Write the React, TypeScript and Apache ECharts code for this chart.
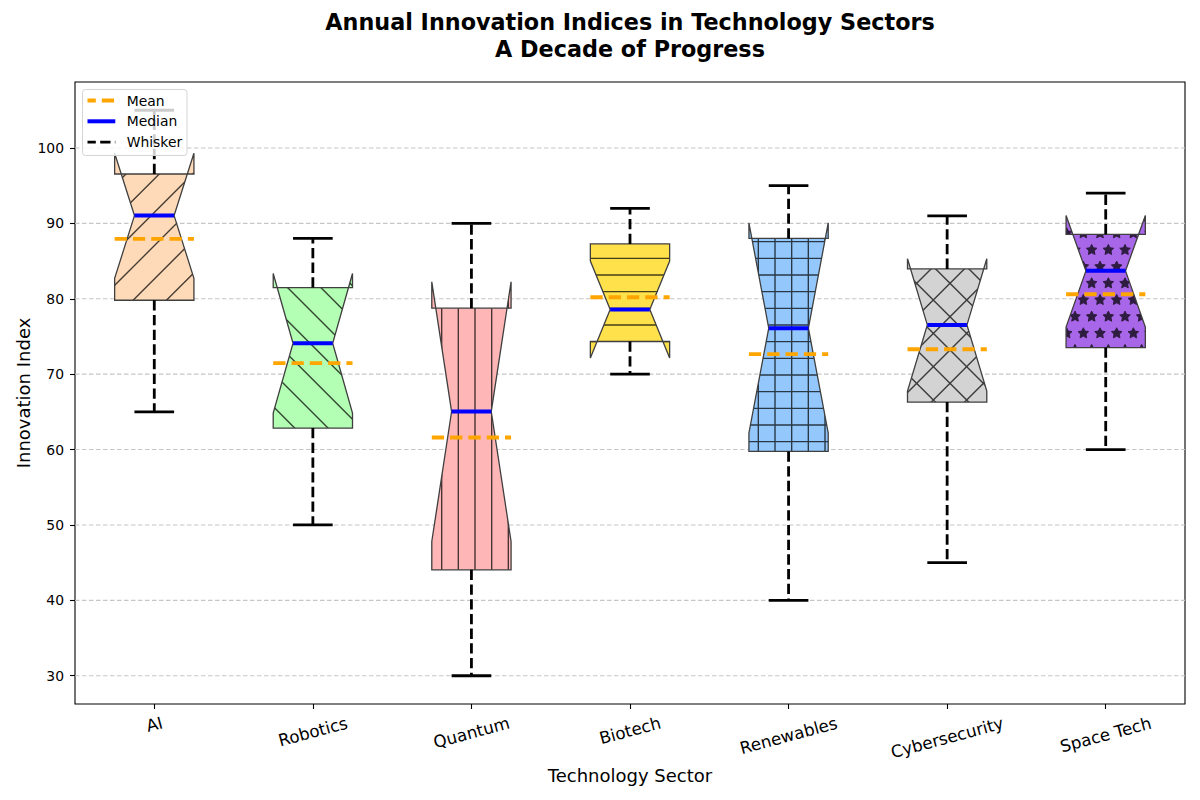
import React, { useEffect, useRef } from "react";
import * as echarts from "echarts";

const categories = ["AI", "Robotics", "Quantum", "Biotech", "Renewables", "Cybersecurity", "Space Tech"];
const whiskerLow = [65, 50, 30, 70, 40, 45, 60];
const q1 = [79.8, 62.85, 44.05, 74.33, 59.75, 66.3, 73.53];
const notchLow = [82.7, 64.85, 47.8, 72.15, 62.2, 67.75, 76.25];
const medians = [91.03, 74.1, 65.04, 78.57, 76.1, 76.53, 83.7];
const notchHigh = [99.3, 83.35, 82.25, 85.0, 90.05, 85.3, 91.05];
const q3 = [96.55, 81.48, 78.75, 87.27, 88.0, 83.96, 88.55];
const whiskerHigh = [105, 88, 90, 92, 95, 91, 94];
const means = [87.94, 71.45, 61.6, 80.2, 72.65, 73.3, 80.6];
const fillColors = ["#FFDAB9", "#B3FFB3", "#FFB6B6", "#FFE14C", "#94C8FC", "#D3D3D3", "#A866E8"];
const hatches = ["/", "\\", "|", "-", "+", "x", "*"];
const yTicks = [30, 40, 50, 60, 70, 80, 90, 100];
const yMin = 26.25;
const yMax = 108.75;
const titleLines = ["Annual Innovation Indices in Technology Sectors", "A Decade of Progress"];

const FONT = "'DejaVu Sans', 'Liberation Sans', sans-serif";
const HS = 100 / 6;
const HD = 100 / 3;

function shade(h: string, f: number) {
  const c = [1, 3, 5].map((i) => Math.round(parseInt(h.slice(i, i + 2), 16) * f));
  return `rgb(${c.join(",")})`;
}

function starPath(cx: number, cy: number, r: number) {
  let d = "";
  for (let k = 0; k < 10; k++) {
    const a = Math.PI / 2 + (k * Math.PI) / 5;
    const rr = k % 2 === 0 ? r : r * 0.5;
    const x = cx + rr * Math.cos(a);
    const y = cy - rr * Math.sin(a);
    d += (k === 0 ? "M" : "L") + x.toFixed(2) + " " + y.toFixed(2);
  }
  return d + "Z";
}

function hatchPath(kind: string, x0: number, x1: number, y0: number, y1: number) {
  const f = (n: number) => n.toFixed(2);
  let d = "";
  if (kind === "|" || kind === "+") {
    for (let k = Math.floor(x0 / HS - 1); (k + 0.5) * HS <= x1 + 1; k++) {
      const x = (k + 0.5) * HS;
      d += `M${f(x)} ${f(y0 - 2)}L${f(x)} ${f(y1 + 2)}`;
    }
  }
  if (kind === "-" || kind === "+") {
    for (let k = Math.floor(y0 / HS - 1); (k + 0.5) * HS <= y1 + 1; k++) {
      const y = (k + 0.5) * HS;
      d += `M${f(x0 - 2)} ${f(y)}L${f(x1 + 2)} ${f(y)}`;
    }
  }
  if (kind === "/" || kind === "x") {
    for (let k = Math.floor((x0 + y0) / HD) - 1; k * HD <= x1 + y1 + HD; k++) {
      const c = k * HD;
      d += `M${f(x0 - 2)} ${f(c - x0 + 2)}L${f(x1 + 2)} ${f(c - x1 - 2)}`;
    }
  }
  if (kind === "\\" || kind === "x") {
    for (let k = Math.floor((x0 - y1) / HD) - 1; k * HD <= x1 - y0 + HD; k++) {
      const c = k * HD;
      d += `M${f(x0 - 2)} ${f(x0 - 2 - c)}L${f(x1 + 2)} ${f(x1 + 2 - c)}`;
    }
  }
  if (kind === "*") {
    const r = HS / 3;
    for (let m = Math.floor(y0 / HS) - 1; m <= Math.ceil(y1 / HS) + 1; m++) {
      const off = m % 2 === 0 ? 0 : 0.5;
      for (let j = Math.floor(x0 / HS) - 1; j <= Math.ceil(x1 / HS) + 1; j++) {
        d += starPath((j + off) * HS, m * HS, r);
      }
    }
  }
  return d;
}

function measure(text: string, size: number) {
  const ctx = document.createElement("canvas").getContext("2d");
  if (!ctx) return text.length * size * 0.6;
  ctx.font = `${size}px "DejaVu Sans"`;
  return ctx.measureText(text).width;
}

export default function App() {
  const ref = useRef<HTMLDivElement>(null);

  useEffect(() => {
    document.body.style.margin = "0";
    if (!ref.current) return;
    const chart = echarts.init(ref.current, null, { renderer: "svg" });

    const rot = (15 * Math.PI) / 180;
    const rich: Record<string, any> = {};
    categories.forEach((c, i) => {
      const L = measure(c, 16.7);
      const p = L * Math.sin(rot);
      const rr = p * Math.tan(rot);
      rich["c" + i] = { fontSize: 16.7, fontFamily: FONT, color: "#000", padding: [p, rr, 0, 0] };
    });

    const boxData = categories.map((_, i) => [
      i, whiskerLow[i], q1[i], notchLow[i], medians[i], notchHigh[i], q3[i], whiskerHigh[i], means[i],
    ]);

    const renderBox = (params: any, api: any) => {
      const i = api.value(0);
      const idx = params.dataIndex;
      const cx = api.coord([i, api.value(4)])[0];
      const bw = api.size([1, 0])[0] * 0.5;
      const py = (v: number) => api.coord([i, v])[1];
      const yLow = py(api.value(1));
      const yQ1 = py(api.value(2));
      const yCiLo = py(api.value(3));
      const yMed = py(api.value(4));
      const yCiHi = py(api.value(5));
      const yQ3 = py(api.value(6));
      const yHigh = py(api.value(7));
      const yMean = py(api.value(8));
      const L = cx - bw / 2;
      const R = cx + bw / 2;
      const cL = cx - bw / 4;
      const cR = cx + bw / 4;
      const pts = [
        [L, yQ1], [R, yQ1], [R, yCiLo], [cR, yMed], [R, yCiHi],
        [R, yQ3], [L, yQ3], [L, yCiHi], [cL, yMed], [L, yCiLo],
      ];
      const fill = fillColors[idx];
      const hc = shade(fill, 0.28);
      const top = Math.min(yQ3, yCiHi);
      const bot = Math.max(yQ1, yCiLo);
      const kind = hatches[idx];
      const hp = hatchPath(kind, L, R, top, bot);
      const edge = "#3f3f3f";
      return {
        type: "group",
        children: [
          { type: "polygon", shape: { points: pts }, style: { fill, stroke: null } },
          {
            type: "path",
            shape: { pathData: hp },
            clipPath: { type: "polygon", shape: { points: pts } },
            style: kind === "*"
              ? { fill: hc, stroke: hc, lineWidth: 1 }
              : { fill: null, stroke: hc, lineWidth: 1.4 },
          },
          { type: "polygon", shape: { points: pts }, style: { fill: null, stroke: edge, lineWidth: 1.3 } },
          { type: "line", shape: { x1: cx, y1: yQ1, x2: cx, y2: yLow }, style: { stroke: "#000", lineWidth: 2.8, lineDash: [10.3, 4.4] } },
          { type: "line", shape: { x1: cx, y1: yQ3, x2: cx, y2: yHigh }, style: { stroke: "#000", lineWidth: 2.8, lineDash: [10.3, 4.4] } },
          { type: "line", shape: { x1: cL, y1: yLow, x2: cR, y2: yLow }, style: { stroke: "#000", lineWidth: 2.8 } },
          { type: "line", shape: { x1: cL, y1: yHigh, x2: cR, y2: yHigh }, style: { stroke: "#000", lineWidth: 2.8 } },
          { type: "line", shape: { x1: cL, y1: yMed, x2: cR, y2: yMed }, style: { stroke: "#0000FF", lineWidth: 4 } },
          { type: "line", shape: { x1: L, y1: yMean, x2: R, y2: yMean }, style: { stroke: "#FFA500", lineWidth: 3.8, lineDash: [12.3, 6] } },
        ],
      };
    };

    const renderGrid = (params: any, api: any) => {
      const y = api.coord([0, api.value(1)])[1];
      const cs = params.coordSys;
      return {
        type: "line",
        shape: { x1: cs.x, y1: y, x2: cs.x + cs.width, y2: y },
        style: { stroke: "#c6c6c6", lineWidth: 1.1, lineDash: [4.5, 2.5] },
      };
    };

    const legendItems = [
      { label: "Mean", color: "#FFA500", width: 3.8, dash: [12.3, 6], offset: 4 },
      { label: "Median", color: "#0000FF", width: 4, dash: null, offset: 0 },
      { label: "Whisker", color: "#000000", width: 2.8, dash: [10.3, 4.4], offset: 2 },
    ];
    const graphics: any[] = [
      {
        type: "rect",
        z: 50,
        shape: { x: 82.5, y: 89.5, width: 104.5, height: 66, r: 3 },
        style: { fill: "rgba(255,255,255,0.8)", stroke: "#d4d4d4", lineWidth: 1 },
      },
    ];
    legendItems.forEach((it, k) => {
      const y = 100.5 + k * 20.8;
      graphics.push({
        type: "line",
        z: 51,
        shape: { x1: 87.5, y1: y, x2: 115.3, y2: y },
        style: { stroke: it.color, lineWidth: it.width, lineDash: it.dash || undefined, lineDashOffset: it.offset },
      });
      graphics.push({
        type: "text",
        z: 51,
        x: 126.7,
        y: y,
        style: { text: it.label, fontSize: 13.9, fontFamily: FONT, fill: "#000", align: "left", verticalAlign: "middle" },
      });
    });

    titleLines.forEach((t, k) => {
      graphics.push({
        type: "text",
        x: 630,
        y: 22 + k * 27,
        z: 10,
        style: { text: t, fontSize: 22.3, fontWeight: "bold", fontFamily: FONT, fill: "#000", align: "center", verticalAlign: "middle" },
      });
    });

    chart.setOption({
      animation: false,
      backgroundColor: "#fff",
      grid: { left: 75, top: 82, right: 15, bottom: 96, show: true, borderColor: "#000", borderWidth: 1.1, backgroundColor: "transparent" },
      xAxis: {
        type: "category",
        data: categories,
        boundaryGap: true,
        axisLine: { show: false },
        axisTick: { show: true, alignWithLabel: true, length: 5, lineStyle: { color: "#000", width: 1.1 } },
        axisLabel: {
          interval: 0,
          rotate: 15,
          align: "center",
          verticalAlign: "middle",
          margin: 18,
          fontSize: 16.7,
          fontFamily: FONT,
          color: "#000",
          formatter: (v: string, i: number) => `{c${i}|${v}}`,
          rich,
        },
        splitLine: { show: false },
      },
      yAxis: {
        type: "value",
        min: yMin,
        max: yMax,
        axisLine: { show: false },
        axisTick: { show: true, length: 5, customValues: yTicks, lineStyle: { color: "#000", width: 1.1 } },
        axisLabel: { customValues: yTicks, fontSize: 13.9, fontFamily: FONT, color: "#000", margin: 11 },
        splitLine: { show: false },
      },
      series: [
        {
          type: "custom",
          z: 1,
          silent: true,
          clip: false,
          data: yTicks.map((v) => [0, v]),
          encode: { x: 0, y: 1 },
          renderItem: renderGrid,
        },
        {
          type: "custom",
          z: 2,
          silent: true,
          clip: false,
          data: boxData,
          encode: { x: 0, y: [1, 2, 3, 4, 5, 6, 7, 8] },
          renderItem: renderBox,
        },
      ],
      graphic: [
        {
          type: "text",
          x: 630,
          y: 775,
          z: 10,
          style: { text: "Technology Sector", fontSize: 18, fontFamily: FONT, fill: "#000", align: "center", verticalAlign: "middle" },
        },
        {
          type: "text",
          x: 23,
          y: 393,
          rotation: Math.PI / 2,
          z: 10,
          style: { text: "Innovation Index", fontSize: 18, fontFamily: FONT, fill: "#000", align: "center", verticalAlign: "middle" },
        },
        ...graphics,
      ],
    });

    return () => chart.dispose();
  }, []);

  return <div ref={ref} style={{ position: "absolute", left: 0, top: 0, width: 1200, height: 800 }} />;
}
